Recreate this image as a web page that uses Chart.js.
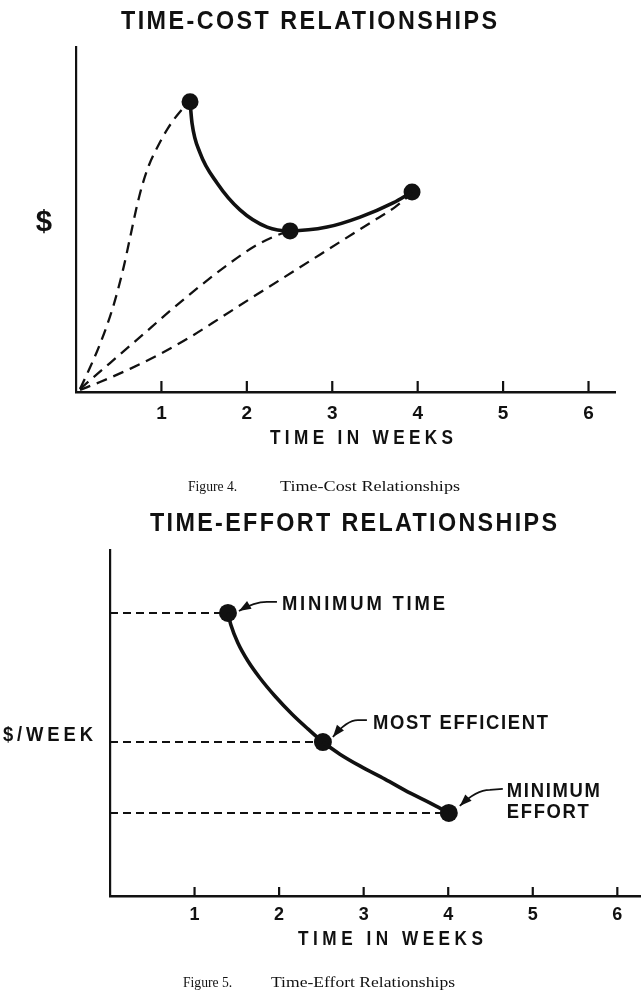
<!DOCTYPE html>
<html><head><meta charset="utf-8">
<script src="https://cdn.jsdelivr.net/npm/chart.js@4.4.1/dist/chart.umd.min.js"></script>
<style>
html,body{margin:0;padding:0;background:#fff;width:641px;height:995px;overflow:hidden;}
#w1{position:absolute;left:0;top:0;width:641px;height:495px;}
#w2{position:absolute;left:0;top:495px;width:641px;height:500px;}
</style></head><body>
<div id="w1"><canvas id="c1"></canvas></div>
<div id="w2"><canvas id="c2"></canvas></div>
<script>
// ---------- DATA ----------
const xTickValues = [1, 2, 3, 4, 5, 6];
const xTickLabels = ['1', '2', '3', '4', '5', '6'];

// Figure 4: Time-Cost relationships ($ vs weeks)
const costCrashCurve = [ // dashed, origin -> minimum-time point
  {x:0.047,y:0.09},{x:0.129,y:0.52},{x:0.281,y:1.39},{x:0.433,y:2.46},{x:0.55,y:3.54},
  {x:0.632,y:4.46},{x:0.703,y:5.28},{x:0.773,y:5.97},{x:0.855,y:6.58},{x:0.96,y:7.13},
  {x:1.077,y:7.65},{x:1.206,y:8.09},{x:1.335,y:8.41}];
const costEfficientCurve = [ // dashed, origin -> most-efficient point
  {x:0.047,y:0.09},{x:0.398,y:0.84},{x:0.749,y:1.59},{x:1.101,y:2.35},{x:1.452,y:3.07},
  {x:1.803,y:3.74},{x:2.096,y:4.23},{x:2.33,y:4.52},{x:2.506,y:4.67}];
const costMinEffortCurve = [ // dashed, origin -> minimum-effort point
  {x:0.047,y:0.06},{x:0.281,y:0.29},{x:0.632,y:0.67},{x:0.984,y:1.1},{x:1.335,y:1.59},
  {x:1.686,y:2.14},{x:2.037,y:2.7},{x:2.389,y:3.25},{x:2.74,y:3.8},{x:3.091,y:4.35},
  {x:3.443,y:4.9},{x:3.735,y:5.36},{x:3.934,y:5.77}];
const costTradeoffCurve = [ // solid, through the three plans
  {x:1.335,y:8.41},{x:1.358,y:7.8},{x:1.452,y:6.93},{x:1.651,y:6.06},{x:1.92,y:5.28},
  {x:2.237,y:4.78},{x:2.506,y:4.67},{x:2.939,y:4.78},{x:3.326,y:5.07},{x:3.712,y:5.48},{x:3.934,y:5.8}];
const costPoints = [{x:1.335,y:8.41},{x:2.506,y:4.67},{x:3.934,y:5.8}];

// Figure 5: Time-Effort relationships ($/week vs weeks)
const effortCurve = [
  {x:1.395,y:8.18},{x:1.43,y:7.83},{x:1.513,y:7.31},{x:1.631,y:6.79},{x:1.773,y:6.3},
  {x:1.95,y:5.78},{x:2.151,y:5.26},{x:2.34,y:4.83},{x:2.518,y:4.45},{x:2.719,y:4.1},
  {x:2.955,y:3.76},{x:3.251,y:3.38},{x:3.546,y:2.98},{x:3.783,y:2.69},{x:4.007,y:2.4}];
const effortPoints = [{x:1.395,y:8.18},{x:2.518,y:4.45},{x:4.007,y:2.4}];
const effortPointLabels = [['MINIMUM TIME'], ['MOST EFFICIENT'], ['MINIMUM', 'EFFORT']];

const titles = ['TIME-COST RELATIONSHIPS', 'TIME-EFFORT RELATIONSHIPS'];
const yAxisTitles = ['$', '$/WEEK'];
const xAxisTitle = 'TIME IN WEEKS';
const captions = [['Figure 4.', 'Time-Cost Relationships'], ['Figure 5.', 'Time-Effort Relationships']];

// ---------- HELPERS ----------
const SANS = '"Liberation Sans", Arial, sans-serif';
const SERIF = '"Liberation Serif", "Times New Roman", serif';
const INK = '#111';
function fitText(ctx, text, x, cy, o) {
  const size = o.capH / (o.capRatio || 0.716);
  ctx.save();
  ctx.font = (o.weight || 'bold') + ' ' + size + 'px ' + (o.family || SANS);
  const hasLS = ('letterSpacing' in ctx);
  if (hasLS) ctx.letterSpacing = '0px';
  const w0 = ctx.measureText(text).width;
  let sx = 1, ls = 0, vis = w0;
  if (o.width) {
    const sq = o.squeeze || 1;
    if (hasLS && o.spread && o.width > w0 * sq && text.length > 1) {
      sx = sq;
      ls = (o.width / sq - w0) / (text.length - 1);
    } else { sx = o.width / w0; }
    vis = o.width;
  }
  let left = x;
  if (o.align === 'center') left = x - vis / 2;
  if (hasLS) ctx.letterSpacing = ls + 'px';
  ctx.translate(left, cy + o.capH / 2);
  ctx.scale(sx, 1);
  ctx.textAlign = 'left';
  ctx.textBaseline = 'alphabetic';
  ctx.fillStyle = INK;
  ctx.fillText(text, 0, 0);
  ctx.restore();
}
function drawInwardTicks(chart, len) {
  const xs = chart.scales.x, ctx = chart.ctx, y0 = chart.chartArea.bottom;
  ctx.save(); ctx.strokeStyle = INK; ctx.lineWidth = 2.2;
  xTickValues.forEach(v => {
    const px = xs.getPixelForValue(v);
    ctx.beginPath(); ctx.moveTo(px, y0); ctx.lineTo(px, y0 - len); ctx.stroke();
  });
  ctx.restore();
}
function baseOptions(padLeft, padRight, padTop, xHeight, xMax, tickPad, tickSize) {
  return {
    responsive: true, maintainAspectRatio: false, animation: false,
    layout: { autoPadding: false, padding: { left: padLeft, right: padRight, top: padTop, bottom: 0 } },
    plugins: { legend: { display: false }, tooltip: { enabled: false }, title: { display: false } },
    elements: { point: { radius: 0 } },
    scales: {
      x: {
        type: 'linear', min: 0, max: xMax,
        grid: { display: false },
        border: { display: true, color: INK, width: 2.4 },
        afterBuildTicks: s => { s.ticks = xTickValues.map(v => ({ value: v })); },
        afterFit: s => { s.height = xHeight; },
        ticks: {
          color: INK, padding: tickPad, maxRotation: 0, autoSkip: false,
          font: { family: SANS, weight: 'bold', size: tickSize },
          callback: (v) => { const i = xTickValues.indexOf(v); return i >= 0 ? xTickLabels[i] : ''; }
        }
      },
      y: {
        type: 'linear', min: 0, max: 10,
        grid: { display: false },
        ticks: { display: false },
        border: { display: true, color: INK, width: 2.2 },
        afterFit: s => { s.width = 0; }
      }
    }
  };
}
const lineDs = (data, width, dash) => ({
  data, showLine: true, borderColor: INK, borderWidth: width, borderDash: dash || [],
  pointRadius: 0, cubicInterpolationMode: 'monotone', fill: false, borderCapStyle: 'butt'
});
const dotDs = (data, r) => ({
  data, showLine: false, pointRadius: r, pointBackgroundColor: INK, pointBorderColor: INK,
  pointBorderWidth: 0, clip: false
});
const SQ = 0.88;

// ---------- CHART 1 ----------
const opt1 = baseOptions(76, 26, 47, 103, 6.31, 2, 19);
new Chart(document.getElementById('c1'), {
  type: 'scatter',
  data: { datasets: [
    lineDs(costCrashCurve, 2.3, [11, 7]),
    lineDs(costEfficientCurve, 2.3, [11, 7]),
    lineDs(costMinEffortCurve, 2.3, [11, 7]),
    lineDs(costTradeoffCurve, 3.6),
    dotDs(costPoints, 8.5)
  ]},
  options: opt1,
  plugins: [{
    id: 'deco1',
    afterDraw(chart) {
      const ctx = chart.ctx;
      drawInwardTicks(chart, 11);
      fitText(ctx, titles[0], 121, 19, { capH: 19, width: 376, spread: true, squeeze: SQ });
      fitText(ctx, yAxisTitles[0], 44, 220, { capH: 21, align: 'center' });
      fitText(ctx, xAxisTitle, 270, 437, { capH: 14, width: 183, spread: true, squeeze: SQ });
      fitText(ctx, captions[0][0], 188, 486, { capH: 9, family: SERIF, weight: 'normal', capRatio: 0.66 });
      fitText(ctx, captions[0][1], 280, 486, { capH: 9, width: 180, family: SERIF, weight: 'normal', capRatio: 0.66 });
    }
  }]
});

// ---------- CHART 2 ----------
const opt2 = baseOptions(110, 0, 55, 99, 6.28, 0, 18);
const refLines = effortPoints.map(p => lineDs([{ x: 0, y: p.y }, { x: p.x, y: p.y }], 2, [8, 5]));
new Chart(document.getElementById('c2'), {
  type: 'scatter',
  data: { datasets: [
    ...refLines,
    lineDs(effortCurve, 3.6),
    dotDs(effortPoints, 9)
  ]},
  options: opt2,
  plugins: [{
    id: 'deco2',
    afterDraw(chart) {
      const ctx = chart.ctx, xs = chart.scales.x, ys = chart.scales.y;
      drawInwardTicks(chart, 9);
      fitText(ctx, titles[1], 150, 26, { capH: 19, width: 407, spread: true, squeeze: SQ });
      fitText(ctx, yAxisTitles[1], 3, 238, { capH: 15, width: 90, spread: true, squeeze: SQ });
      fitText(ctx, xAxisTitle, 298, 443, { capH: 14, width: 185, spread: true, squeeze: SQ });
      fitText(ctx, captions[1][0], 183, 487, { capH: 9, family: SERIF, weight: 'normal', capRatio: 0.66 });
      fitText(ctx, captions[1][1], 271, 487, { capH: 9, width: 184, family: SERIF, weight: 'normal', capRatio: 0.66 });
      // callouts: leader start, bend, tip relative to dot; label offset
      const geo = [
        { s: [49, -11], b: [39, -11], t: [11, -2], lx: 54, ly: -10, w: [163] },
        { s: [44, -22], b: [35, -22], t: [10, -5], lx: 50, ly: -21, w: [175] },
        { s: [54, -24], b: [41, -23], t: [11, -7], lx: 58, ly: -23, w: [93, 82] }
      ];
      effortPoints.forEach((p, i) => {
        const px = xs.getPixelForValue(p.x), py = ys.getPixelForValue(p.y), g = geo[i];
        ctx.save();
        ctx.strokeStyle = INK; ctx.fillStyle = INK; ctx.lineWidth = 1.8;
        const sx = px + g.s[0], sy = py + g.s[1], bx = px + g.b[0], by = py + g.b[1];
        const tx = px + g.t[0], ty = py + g.t[1];
        const cx = bx - (bx - tx) * 0.45, cy = by;
        ctx.beginPath(); ctx.moveTo(sx, sy); ctx.lineTo(bx, by);
        ctx.quadraticCurveTo(cx, cy, tx, ty); ctx.stroke();
        const ang = Math.atan2(ty - cy, tx - cx), L = 12, W = 4.5;
        ctx.beginPath();
        ctx.moveTo(tx, ty);
        ctx.lineTo(tx - L * Math.cos(ang) + W * Math.sin(ang), ty - L * Math.sin(ang) - W * Math.cos(ang));
        ctx.lineTo(tx - L * Math.cos(ang) - W * Math.sin(ang), ty - L * Math.sin(ang) + W * Math.cos(ang));
        ctx.closePath(); ctx.fill();
        ctx.restore();
        effortPointLabels[i].forEach((t, k) => {
          fitText(ctx, t, px + g.lx, py + g.ly + k * 21, { capH: 15, width: g.w[k], spread: true, squeeze: SQ });
        });
      });
    }
  }]
});
</script>
</body></html>
